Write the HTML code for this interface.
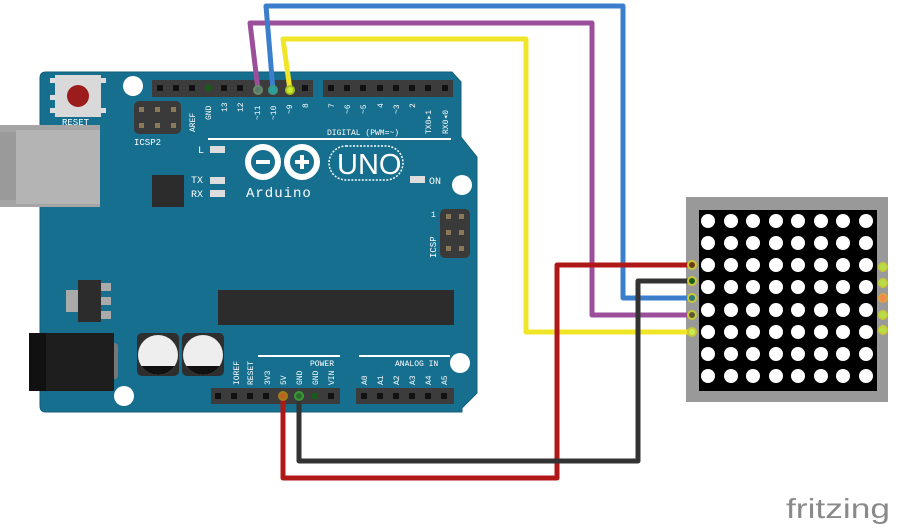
<!DOCTYPE html>
<html><head><meta charset="utf-8"><style>
html,body{margin:0;padding:0;background:#fff;}
svg{display:block}
text{font-family:"Liberation Mono",monospace;}
</style></head><body>
<svg width="897" height="528" viewBox="0 0 897 528" xmlns="http://www.w3.org/2000/svg">
<path d="M46,72 L452,72 L461,82 L461,137 L477,157 L477,393 L462,408 L462,412 L46,412 Q40,412 40,406 L40,78 Q40,72 46,72 Z" fill="#166f8e" stroke="#135f7a" stroke-width="1"/>
<rect x="0" y="125" width="100" height="82" fill="#a5a5a5"/>
<rect x="0" y="132" width="16" height="68" fill="#9a9a9a"/>
<rect x="16" y="130" width="84" height="74" fill="#b4b4b4"/>
<rect x="50" y="78" width="8" height="5" fill="#ddd"/><rect x="50" y="95" width="8" height="5" fill="#ddd"/><rect x="50" y="108" width="8" height="5" fill="#ddd"/>
<rect x="98" y="78" width="8" height="5" fill="#ddd"/><rect x="98" y="108" width="8" height="5" fill="#ddd"/>
<rect x="55" y="75" width="46" height="42" fill="#d9d9d9"/>
<circle cx="78" cy="96" r="11" fill="#9b1c1c"/>
<text x="62" y="125" font-size="9" fill="#fff">RESET</text>
<circle cx="133" cy="86" r="10" fill="#fff"/>
<circle cx="462" cy="185" r="10" fill="#fff"/>
<circle cx="124" cy="396" r="10" fill="#fff"/>
<circle cx="460" cy="363" r="10" fill="#fff"/>
<rect x="134" y="101" width="47" height="33" rx="5" fill="#3a3a3a"/>
<g fill="#8a7a5a"><rect x="139" y="107" width="5" height="5"/><rect x="155" y="107" width="5" height="5"/><rect x="171" y="107" width="5" height="5"/><rect x="139" y="123" width="5" height="5"/><rect x="155" y="123" width="5" height="5"/><rect x="171" y="123" width="5" height="5"/></g>
<text x="134" y="145" font-size="9" fill="#fff">ICSP2</text>
<rect x="152" y="80" width="161" height="17" fill="#3c3c3c"/>
<rect x="323" y="80" width="130" height="17" fill="#3c3c3c"/>
<g fill="#111">
<rect x="157" y="85" width="6" height="6"/><rect x="173" y="85" width="6" height="6"/><rect x="189" y="85" width="6" height="6"/><rect x="205" y="85" width="6" height="6" fill="#1a5a1a"/><rect x="221" y="85" width="6" height="6"/><rect x="237" y="85" width="6" height="6"/><rect x="302" y="85" width="6" height="6"/>
<rect x="328" y="85" width="6" height="6"/><rect x="344" y="85" width="6" height="6"/><rect x="360" y="85" width="6" height="6"/><rect x="377" y="85" width="6" height="6"/><rect x="393" y="85" width="6" height="6"/><rect x="409" y="85" width="6" height="6"/><rect x="425" y="85" width="6" height="6"/><rect x="442" y="85" width="6" height="6"/>
</g>
<g font-size="8" fill="#fff">
<text transform="translate(195,132) rotate(-90)">AREF</text>
<text transform="translate(211,120) rotate(-90)">GND</text>
<text transform="translate(227,112) rotate(-90)">13</text>
<text transform="translate(243,112) rotate(-90)">12</text>
<text transform="translate(260,120) rotate(-90)">~11</text>
<text transform="translate(276,120) rotate(-90)">~10</text>
<text transform="translate(292,114) rotate(-90)">~9</text>
<text transform="translate(308,108) rotate(-90)">8</text>
<text transform="translate(334,108) rotate(-90)">7</text>
<text transform="translate(350,114) rotate(-90)">~6</text>
<text transform="translate(366,114) rotate(-90)">~5</text>
<text transform="translate(383,108) rotate(-90)">4</text>
<text transform="translate(399,114) rotate(-90)">~3</text>
<text transform="translate(415,108) rotate(-90)">2</text>
<text transform="translate(431,134) rotate(-90)">TX0▸1</text>
<text transform="translate(448,134) rotate(-90)">RX0◂0</text>
<text x="327" y="135" font-size="8">DIGITAL (PWM=~)</text>
</g>
<rect x="208" y="138" width="243" height="2" fill="#fff"/>
<g fill="#fff" font-size="10">
<text x="198" y="153">L</text><rect x="210" y="146" width="15" height="7" fill="#ddd"/>
<text x="191" y="183">TX</text><rect x="210" y="177" width="15" height="7" fill="#ddd"/>
<text x="191" y="197">RX</text><rect x="210" y="190" width="15" height="7" fill="#ddd"/>
<rect x="410" y="176" width="15" height="7" fill="#ddd"/><text x="429" y="184">ON</text>
</g>
<rect x="152" y="175" width="32" height="32" fill="#2c2c2c"/>
<circle cx="263" cy="162" r="15" fill="none" stroke="#fff" stroke-width="6"/>
<circle cx="302" cy="162" r="15" fill="none" stroke="#fff" stroke-width="6"/>
<rect x="256" y="160" width="14" height="4" fill="#fff"/>
<rect x="295" y="160" width="14" height="4" fill="#fff"/><rect x="300" y="155" width="4" height="14" fill="#fff"/>
<text x="246" y="197" font-size="14" fill="#fff" letter-spacing="1">Arduino</text>
<rect x="329" y="146" width="74" height="34" rx="17" fill="none" stroke="#fff" stroke-width="1.5" stroke-dasharray="2,1.5"/>
<text x="337" y="174" font-size="29" fill="#fff" style="font-family:'Liberation Sans',sans-serif;font-weight:300">UNO</text>
<rect x="440" y="209" width="30" height="49" rx="5" fill="#3a3a3a"/>
<g fill="#8a7a5a"><rect x="446" y="214" width="5" height="5"/><rect x="459" y="214" width="5" height="5"/><rect x="446" y="230" width="5" height="5"/><rect x="459" y="230" width="5" height="5"/><rect x="446" y="246" width="5" height="5"/><rect x="459" y="246" width="5" height="5"/></g>
<text transform="translate(436,258) rotate(-90)" font-size="9" fill="#fff">ICSP</text>
<text x="431" y="217" font-size="8" fill="#fff">1</text>
<rect x="66" y="290" width="14" height="22" fill="#aaa"/>
<rect x="99" y="283" width="12" height="8" fill="#aaa"/><rect x="99" y="297" width="12" height="8" fill="#aaa"/><rect x="99" y="311" width="12" height="8" fill="#aaa"/>
<rect x="78" y="280" width="23" height="42" fill="#2c2c2c"/>
<rect x="218" y="290" width="236" height="35" fill="#2c2c2c"/>
<rect x="112" y="343" width="6" height="36" rx="3" fill="#777"/>
<rect x="29" y="333" width="85" height="58" fill="#1e1e1e"/>
<rect x="29" y="333" width="17" height="58" fill="#111"/>
<rect x="137" y="333" width="42" height="43" rx="5" fill="#2e2e2e"/>
<rect x="182" y="333" width="42" height="43" rx="5" fill="#2e2e2e"/>
<clipPath id="c1"><circle cx="158" cy="355" r="20"/></clipPath>
<clipPath id="c2"><circle cx="203" cy="355" r="20"/></clipPath>
<circle cx="158" cy="355" r="20" fill="#eee"/><rect x="130" y="366" width="60" height="20" fill="#111" clip-path="url(#c1)"/>
<circle cx="203" cy="355" r="20" fill="#eee"/><rect x="175" y="366" width="60" height="20" fill="#111" clip-path="url(#c2)"/>
<rect x="258" y="355" width="82" height="2" fill="#fff"/>
<rect x="359" y="355" width="91" height="2" fill="#fff"/>
<g font-size="8" fill="#fff">
<text x="310" y="366">POWER</text>
<text x="395" y="366">ANALOG IN</text>
<text transform="translate(239,385) rotate(-90)">IOREF</text>
<text transform="translate(253,385) rotate(-90)">RESET</text>
<text transform="translate(270,385) rotate(-90)">3V3</text>
<text transform="translate(286,385) rotate(-90)">5V</text>
<text transform="translate(302,385) rotate(-90)">GND</text>
<text transform="translate(318,385) rotate(-90)">GND</text>
<text transform="translate(334,385) rotate(-90)">VIN</text>
<text transform="translate(367,385) rotate(-90)">A0</text>
<text transform="translate(383,385) rotate(-90)">A1</text>
<text transform="translate(399,385) rotate(-90)">A2</text>
<text transform="translate(415,385) rotate(-90)">A3</text>
<text transform="translate(431,385) rotate(-90)">A4</text>
<text transform="translate(447,385) rotate(-90)">A5</text>
</g>
<rect x="211" y="388" width="129" height="16" fill="#3c3c3c"/>
<rect x="356" y="388" width="98" height="16" fill="#3c3c3c"/>
<g fill="#111">
<rect x="215" y="393" width="6" height="6"/><rect x="231" y="393" width="6" height="6"/><rect x="247" y="393" width="6" height="6"/><rect x="263" y="393" width="6" height="6"/><rect x="312" y="393" width="6" height="6" fill="#1a5a1a"/><rect x="328" y="393" width="6" height="6"/>
<rect x="361" y="393" width="6" height="6"/><rect x="377" y="393" width="6" height="6"/><rect x="393" y="393" width="6" height="6"/><rect x="409" y="393" width="6" height="6"/><rect x="425" y="393" width="6" height="6"/><rect x="441" y="393" width="6" height="6"/>
</g>
<rect x="686" y="197" width="202" height="205" fill="#999"/>
<rect x="699" y="210" width="178" height="181" fill="#000"/>
<g fill="#fff">
<g id="row"><circle cx="708" cy="221" r="7"/><circle cx="731" cy="221" r="7"/><circle cx="753" cy="221" r="7"/><circle cx="776" cy="221" r="7"/><circle cx="798" cy="221" r="7"/><circle cx="821" cy="221" r="7"/><circle cx="843" cy="221" r="7"/><circle cx="866" cy="221" r="7"/></g>
<use href="#row" y="22"/><use href="#row" y="44"/><use href="#row" y="66"/><use href="#row" y="89"/><use href="#row" y="111"/><use href="#row" y="133"/><use href="#row" y="155"/>
</g>
<g fill="#b6e04a" stroke="#c9c936" stroke-width="2">
<circle cx="883" cy="267" r="4"/><circle cx="883" cy="283" r="4"/><circle cx="883" cy="315" r="4"/><circle cx="883" cy="330" r="4"/>
<circle cx="883" cy="298" r="4" fill="#f08a4a" stroke="#e0a040"/>
</g>
<g fill="none" stroke-width="5" stroke-linejoin="round">
<polyline points="258,90 250,23 592,23 592,315 692,315" stroke="#9b4f9b"/>
<polyline points="273,90 266,6 623,6 623,298 692,298" stroke="#3b7fcc"/>
<polyline points="290,90 283,39 526,39 526,332 692,332" stroke="#f0e628"/>
<polyline points="283,398 283,478 557,478 557,265 692,265" stroke="#b01818"/>
<polyline points="299,398 299,461 638,461 638,281 692,281" stroke="#333"/>
</g>
<g stroke="#c9c936" stroke-width="2">
<circle cx="692" cy="265" r="4" fill="#6b3a1a"/><circle cx="692" cy="281" r="4" fill="#1f5a1f"/><circle cx="692" cy="298" r="4" fill="#2a7a7a"/><circle cx="692" cy="315" r="4" fill="#5a5a3a"/><circle cx="692" cy="332" r="4" fill="#c8ec50"/>
</g>
<g stroke-width="2">
<circle cx="258" cy="90" r="4" fill="#5a7a6a" stroke="#6a8a6a"/><circle cx="273" cy="90" r="4" fill="#2aa0a0" stroke="#3a9a8a"/><circle cx="290" cy="90" r="4" fill="#c8ec30" stroke="#a8c020"/>
<circle cx="283" cy="396" r="4" fill="#c06020" stroke="#a0801a"/><circle cx="299" cy="396" r="4" fill="#2a6a2a" stroke="#3a9a3a"/>
</g>
<text x="786" y="518" font-size="28" fill="#8a8a8a" textLength="104" lengthAdjust="spacingAndGlyphs" style="font-family:'Liberation Sans',sans-serif">fritzing</text>
</svg>
</body></html>
